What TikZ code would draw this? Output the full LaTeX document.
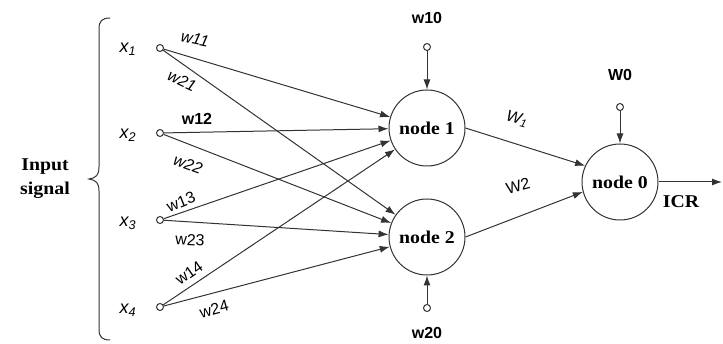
\documentclass[tikz,border=0pt]{standalone}
\usepackage{fontspec}
\setmainfont{Liberation Serif}
\setsansfont{Liberation Sans}
\newfontfamily\wideserif[FakeStretch=1.1]{Liberation Serif}
\usetikzlibrary{arrows.meta}
\begin{document}
\begin{tikzpicture}[x=1pt,y=-1pt,
  neuron/.style={circle,draw=black!80,line width=1pt,minimum size=76pt,inner sep=0pt,font=\wideserif\bfseries\fontsize{18}{20}\selectfont},
  port/.style={circle,draw=black!80,line width=1pt,minimum size=7pt,inner sep=0pt,fill=white},
  conn/.style={draw=black!80,line width=1pt,-{Latex[length=10pt,width=7pt]}},
  line/.style={draw=black!80,line width=1pt},
  wlab/.style={font=\sffamily\itshape\fontsize{16}{18}\selectfont,inner sep=0pt},
  wreg/.style={font=\sffamily\fontsize{16}{18}\selectfont,inner sep=0pt},
  wbold/.style={font=\sffamily\bfseries\fontsize{16}{18}\selectfont,inner sep=0pt},
  xlab/.style={font=\sffamily\itshape\fontsize{18}{20}\selectfont,inner sep=0pt},
  serifb/.style={font=\wideserif\bfseries\fontsize{18}{24}\selectfont,inner sep=0pt,align=center},
]
\useasboundingbox (0,0) rectangle (723,344);
% brace and label
\draw[line] (110,18) .. controls (102,18) and (99,21) .. (99,29) -- (99,167)
  .. controls (99,175) and (96,178) .. (89,179)
  .. controls (96,180) and (99,183) .. (99,191) -- (99,329)
  .. controls (99,337) and (102,340) .. (110,340);
\node[serifb] (insig) at (45,179) {Input\\signal};
% inputs
\node[port] (x1) at (160,48) {};
\node[port] (x2) at (160,133) {};
\node[port] (x3) at (160,220) {};
\node[port] (x4) at (160,307) {};
\node[xlab] (lx1) at (128,49) {x\textsubscript{1}};
\node[xlab] (lx2) at (128,135) {x\textsubscript{2}};
\node[xlab] (lx3) at (128,223) {x\textsubscript{3}};
\node[xlab] (lx4) at (128,310) {x\textsubscript{4}};
% hidden nodes
\node[neuron] (n1) at (427,128) {node 1};
\node[neuron] (n2) at (427,237) {node 2};
\node[neuron] (n0) at (620,182) {node 0};
% bias ports
\node[port] (b1) at (427,47) {};
\node[port] (b2) at (427,308) {};
\node[port] (b0) at (620,107) {};
\node[wbold] (lb1) at (427,18) {w10};
\node[wbold] (lb2) at (427,333) {w20};
\node[wbold] (lb0) at (620,75) {W0};
% connections input -> hidden
\draw[conn] (x1) -- (n1);
\draw[conn] (x1) -- (n2);
\draw[conn] (x2) -- (n1);
\draw[conn] (x2) -- (n2);
\draw[conn] (x3) -- (n1);
\draw[conn] (x3) -- (n2);
\draw[conn] (x4) -- (n1);
\draw[conn] (x4) -- (n2);
\draw[conn] (b1) -- (n1);
\draw[conn] (b2) -- (n2);
\draw[conn] (b0) -- (n0);
\draw[conn] (n1.east) -- (n0.155);
\draw[conn] (n2.east) -- (n0.195);
\coordinate (out) at (722,182);
\draw[conn] (n0) -- (out);
% weight labels
\node[wlab,rotate=-12] (l11) at (195,39) {w11};
\node[wlab,rotate=-25] (l21) at (182,81) {w21};
\node[wbold] (l12) at (197,119) {w12};
\node[wlab,rotate=-20] (l22) at (188,164) {w22};
\node[wreg,rotate=22] (l13) at (181,202) {w13};
\node[wreg,rotate=-3] (l23) at (190,240) {w23};
\node[wreg,rotate=35] (l14) at (189,273) {w14};
\node[wreg,rotate=15] (l24) at (214,309) {w24};
\node[wlab,rotate=-15] (lw1) at (517,119) {W\textsubscript{1}};
\node[wreg,rotate=15] (lw2) at (518,186) {W2};
\node[serifb] (icr) at (681,202) {ICR};
\end{tikzpicture}
\end{document}
